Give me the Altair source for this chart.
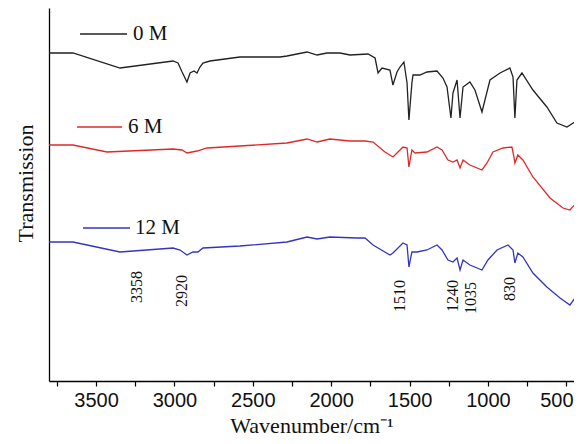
import altair as alt
import pandas as pd

# ---- FTIR spectra (wavenumber cm^-1, transmission in arbitrary offset units) ----
wn_0m = [3800, 3647, 3347, 3009, 2977, 2951, 2920, 2900, 2875, 2856, 2837, 2818, 2773, 2582,
         2326, 2282, 2154, 2090, 2027, 1944, 1880, 1765, 1720, 1701, 1676, 1625, 1606, 1580,
         1561, 1536, 1516, 1504, 1485, 1478, 1434, 1389, 1325, 1287, 1261, 1236, 1223, 1197,
         1178, 1159, 1115, 1083, 1038, 1019, 987, 923, 860, 840, 828, 815, 783, 713, 624, 560,
         496, 445, 400]
t_0m = [328, 328, 313, 320, 318, 309, 299, 308, 310, 308, 314, 318, 320, 324,
        324, 325, 329, 326, 328, 328, 326, 327, 323, 308, 313, 311, 296, 309,
        314, 319, 298, 261, 298, 306, 306, 309, 310, 303, 294, 263, 288, 301,
        263, 294, 299, 291, 269, 281, 301, 308, 313, 304, 263, 301, 308, 291, 274, 258,
        254, 259, 251]

wn_6m = [3800, 3647, 3430, 3009, 2951, 2920, 2888, 2856, 2792, 2582, 2282, 2154, 2090, 2008,
         1880, 1784, 1733, 1657, 1606, 1580, 1542, 1516, 1504, 1485, 1465, 1389, 1325, 1293,
         1255, 1223, 1197, 1178, 1159, 1115, 1038, 1006, 968, 904, 847, 834, 828, 809, 777,
         713, 604, 521, 477, 432, 400]
t_6m = [236, 236, 229, 232, 231, 228, 229, 230, 233, 235, 238, 242, 239, 242,
        240, 240, 239, 229, 224, 228, 234, 233, 214, 231, 228, 229, 234, 231,
        221, 219, 221, 213, 221, 216, 211, 218, 229, 233, 234, 224, 218, 226, 221,
        204, 183, 173, 171, 179, 173]

wn_12m = [3800, 3647, 3347, 3009, 2964, 2920, 2882, 2850, 2818, 2582, 2282, 2154, 2090, 2008,
          1836, 1784, 1733, 1625, 1606, 1542, 1516, 1504, 1485, 1452, 1389, 1325, 1293, 1255,
          1223, 1197, 1178, 1159, 1115, 1038, 1000, 942, 872, 840, 828, 809, 777, 713, 624,
          540, 477, 445, 400]
t_12m = [139, 139, 129, 133, 131, 126, 129, 129, 133, 135, 139, 144, 142, 144,
         143, 143, 136, 126, 128, 138, 136, 114, 129, 129, 131, 136, 131, 121,
         119, 123, 111, 121, 116, 111, 121, 131, 136, 131, 118, 128, 124, 108, 94,
         83, 76, 83, 78]

series_names = ["0 M", "6 M", "12 M"]
series_colors = ["#222222", "#e02828", "#3434c4"]

# ---- inline legend (line segment + label) ----
legend_x1 = [3602, 3621, 3583]
legend_x2 = [3302, 3334, 3283]
legend_text_x = [3264, 3296, 3251]
legend_y = [347, 254, 153]

# ---- peak annotations ----
peak_labels = ["3358", "2920", "1510", "1240", "1035", "830"]
peak_label_x = [3239, 2952, 1564, 1226, 1105, 862]
peak_label_y = [94, 90, 85, 85, 83, 92]

rows = []
for name, wns, ts in zip(series_names, [wn_0m, wn_6m, wn_12m], [t_0m, t_6m, t_12m]):
    for w, t in zip(wns, ts):
        rows.append({"series": name, "wn": w, "t": t})
spectra = pd.DataFrame(rows)

legend_df = pd.DataFrame({"series": series_names, "wn": legend_x1, "wn2": legend_x2,
                          "t": legend_y, "tx": legend_text_x})
peaks_df = pd.DataFrame({"label": peak_labels, "wn": peak_label_x, "t": peak_label_y})

x_scale = alt.Scale(domain=[451, 3800], reverse=True, nice=False, zero=False)
y_scale = alt.Scale(domain=[0, 373], nice=False, zero=False)
color_scale = alt.Scale(domain=series_names, range=series_colors)

x_axis = alt.Axis(
    values=list(range(3750, 451, -250)),
    labelExpr="datum.value % 500 === 0 ? format(datum.value, 'd') : ''",
    labelOverlap=False, labelFlush=False,
    labelOffset={"condition": {"test": "datum.value === 500", "value": -10}, "value": 0},
    tickSize=5, tickColor="black", tickWidth=1.2,
    domainColor="black", domainWidth=1.3,
    labelFont="Liberation Sans", labelFontSize=20, labelColor="#111111", labelPadding=4,
    title="Wavenumber/cm⁻¹", titleFont="Liberation Serif", titleFontSize=22,
    titleFontWeight="normal", titleColor="#111111", titlePadding=5, grid=False,
)
y_axis = alt.Axis(
    labels=False, ticks=False, grid=False,
    domainColor="black", domainWidth=1.3,
    title="Transmission", titleFont="Liberation Serif", titleFontSize=22,
    titleFontWeight="normal", titleColor="#111111", titlePadding=12, titleY=175,
)

X = alt.X("wn:Q", scale=x_scale, axis=x_axis)
Y = alt.Y("t:Q", scale=y_scale, axis=y_axis)

lines = alt.Chart(spectra).mark_line(strokeWidth=1.3, clip=True).encode(
    x=X, y=Y,
    color=alt.Color("series:N", scale=color_scale, legend=None),
    detail="series:N",
)

leg_rules = alt.Chart(legend_df).mark_rule(strokeWidth=1.4).encode(
    x=X, x2="wn2:Q", y=Y,
    color=alt.Color("series:N", scale=color_scale, legend=None),
)

leg_text = alt.Chart(legend_df).mark_text(
    align="left", baseline="middle", font="Liberation Serif", fontSize=21, color="#111111"
).encode(x=alt.X("tx:Q", scale=x_scale), y=Y, text="series:N")

peak_text = alt.Chart(peaks_df).mark_text(
    angle=270, align="center", baseline="middle", font="Liberation Serif",
    fontSize=16, color="#111111"
).encode(x=X, y=Y, text="label:N")

chart = alt.layer(lines, leg_rules, leg_text, peak_text).properties(
    width=525, height=373,
    autosize=alt.AutoSizeParams(type="none"),
    padding={"left": 41, "top": 0, "right": 0, "bottom": 55},
    background="white",
).configure_view(stroke=None)

chart.save("out.html", embed_options={"renderer": "svg", "actions": False})
